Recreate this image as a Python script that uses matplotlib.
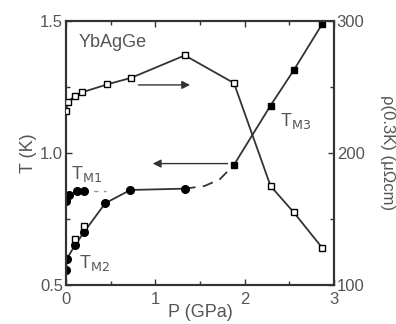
import matplotlib
matplotlib.use("Agg")
import matplotlib.pyplot as plt

plt.rcParams['font.family'] = ['Liberation Sans', 'DejaVu Sans']

# Resistivity (right axis), open squares
rho_P = [0.0, 0.02, 0.1, 0.18, 0.46, 0.73, 1.33, 1.88, 2.29, 2.55, 2.87]
rho_V = [232, 239, 243, 246, 252, 257, 274, 253, 175, 155, 128]

# T_M1 branch (filled circles)
m1_P = [0.0, 0.03, 0.12, 0.2]
m1_T = [0.82, 0.84, 0.855, 0.855]

# T_M2 branch (filled circles)
m2_P = [0.0, 0.01, 0.1, 0.2, 0.44, 0.72, 1.33]
m2_T = [0.555, 0.60, 0.65, 0.70, 0.81, 0.86, 0.865]
# second sample for T_M2 (open squares)
m2b_P = [0.1, 0.2]
m2b_T = [0.675, 0.725]

# dashed guide between T_M2 and T_M3
gd_P = [1.33, 1.55, 1.72, 1.88]
gd_T = [0.865, 0.875, 0.9, 0.955]

# T_M3 branch (filled squares)
m3_P = [1.88, 2.29, 2.55, 2.87]
m3_T = [0.955, 1.18, 1.314, 1.49]

c = '#333333'
tc = '#555555'

fig = plt.figure(figsize=(3.96, 3.24), dpi=100)
ax = fig.add_axes([0.1667, 0.1204, 0.6767, 0.8146])
ax2 = ax.twinx()

ax.plot(m2_P, m2_T, '-', color=c, lw=1.3, marker='o', ms=5.5, mfc='black', mec='black', zorder=3)
ax.plot(gd_P, gd_T, '--', color=c, lw=1.3, dashes=(6, 4))
ax.plot(m3_P, m3_T, '-', color=c, lw=1.3, marker='s', ms=5, mfc='black', mec='black', zorder=3)
ax.plot(m1_P, m1_T, '-', color=c, lw=1.3, marker='o', ms=5.5, mfc='black', mec='black', zorder=3)
ax.plot([m1_P[-1], 0.45], [m1_T[-1], 0.855], '--', color='#999999', lw=1.0, dashes=(3, 4))
ax.plot(m2b_P, m2b_T, 's', ms=4.5, mfc='white', mec='black', mew=1.0, zorder=4)

ax2.plot(rho_P, rho_V, '-', color=c, lw=1.3, marker='s', ms=5, mfc='white', mec='black', mew=1.0, zorder=3)

ax.set_xlim(0, 3)
ax.set_ylim(0.5, 1.5)
ax2.set_ylim(100, 300)

ax.set_xticks([0, 1, 2, 3])
ax.set_xticklabels(['0', '1', '2', '3'])
ax.set_xticks([0.5, 1.5, 2.5], minor=True)
ax.set_yticks([0.5, 1.0, 1.5])
ax.set_yticklabels(['0.5', '1.0', '1.5'])
ax.set_yticks([0.75, 1.25], minor=True)
ax2.set_yticks([100, 200, 300])
ax2.set_yticks([150, 250], minor=True)

for a in (ax, ax2):
    a.tick_params(which='both', direction='in', colors=c, labelcolor=tc, labelsize=12, width=1.0)
    a.tick_params(which='major', length=4)
    a.tick_params(which='minor', length=3)
    for s in a.spines.values():
        s.set_color(c)
        s.set_linewidth(1.5)
ax.tick_params(which='both', top=True)
ax.tick_params(axis='x', pad=5)
ax.tick_params(axis='y', pad=2)
ax2.tick_params(axis='y', pad=2)

ax.set_xlabel('P (GPa)', fontsize=13, color=tc, labelpad=-2)
ax.set_ylabel('T (K)', fontsize=13, color=tc, labelpad=2)
ax2.set_ylabel('ρ(0.3K) (μΩcm)', fontsize=12, color=tc, rotation=-90, labelpad=22)

ax.text(0.14, 1.42, 'YbAgGe', fontsize=13, color=tc, va='center', ha='left')
ax.text(0.06, 0.92, r'T$_{\rm M1}$', fontsize=13, color=tc, va='center', ha='left')
ax.text(0.15, 0.585, r'T$_{\rm M2}$', fontsize=13, color=tc, va='center', ha='left')
ax.text(2.4, 1.12, r'T$_{\rm M3}$', fontsize=13, color=tc, va='center', ha='left')

ax.annotate('', xy=(1.42, 1.258), xytext=(0.78, 1.258),
            arrowprops=dict(arrowstyle='-|>', color=c, lw=1.0, mutation_scale=12))
ax.annotate('', xy=(0.94, 0.96), xytext=(1.84, 0.96),
            arrowprops=dict(arrowstyle='-|>', color=c, lw=1.0, mutation_scale=12))

fig.savefig('out.png', dpi=100)
